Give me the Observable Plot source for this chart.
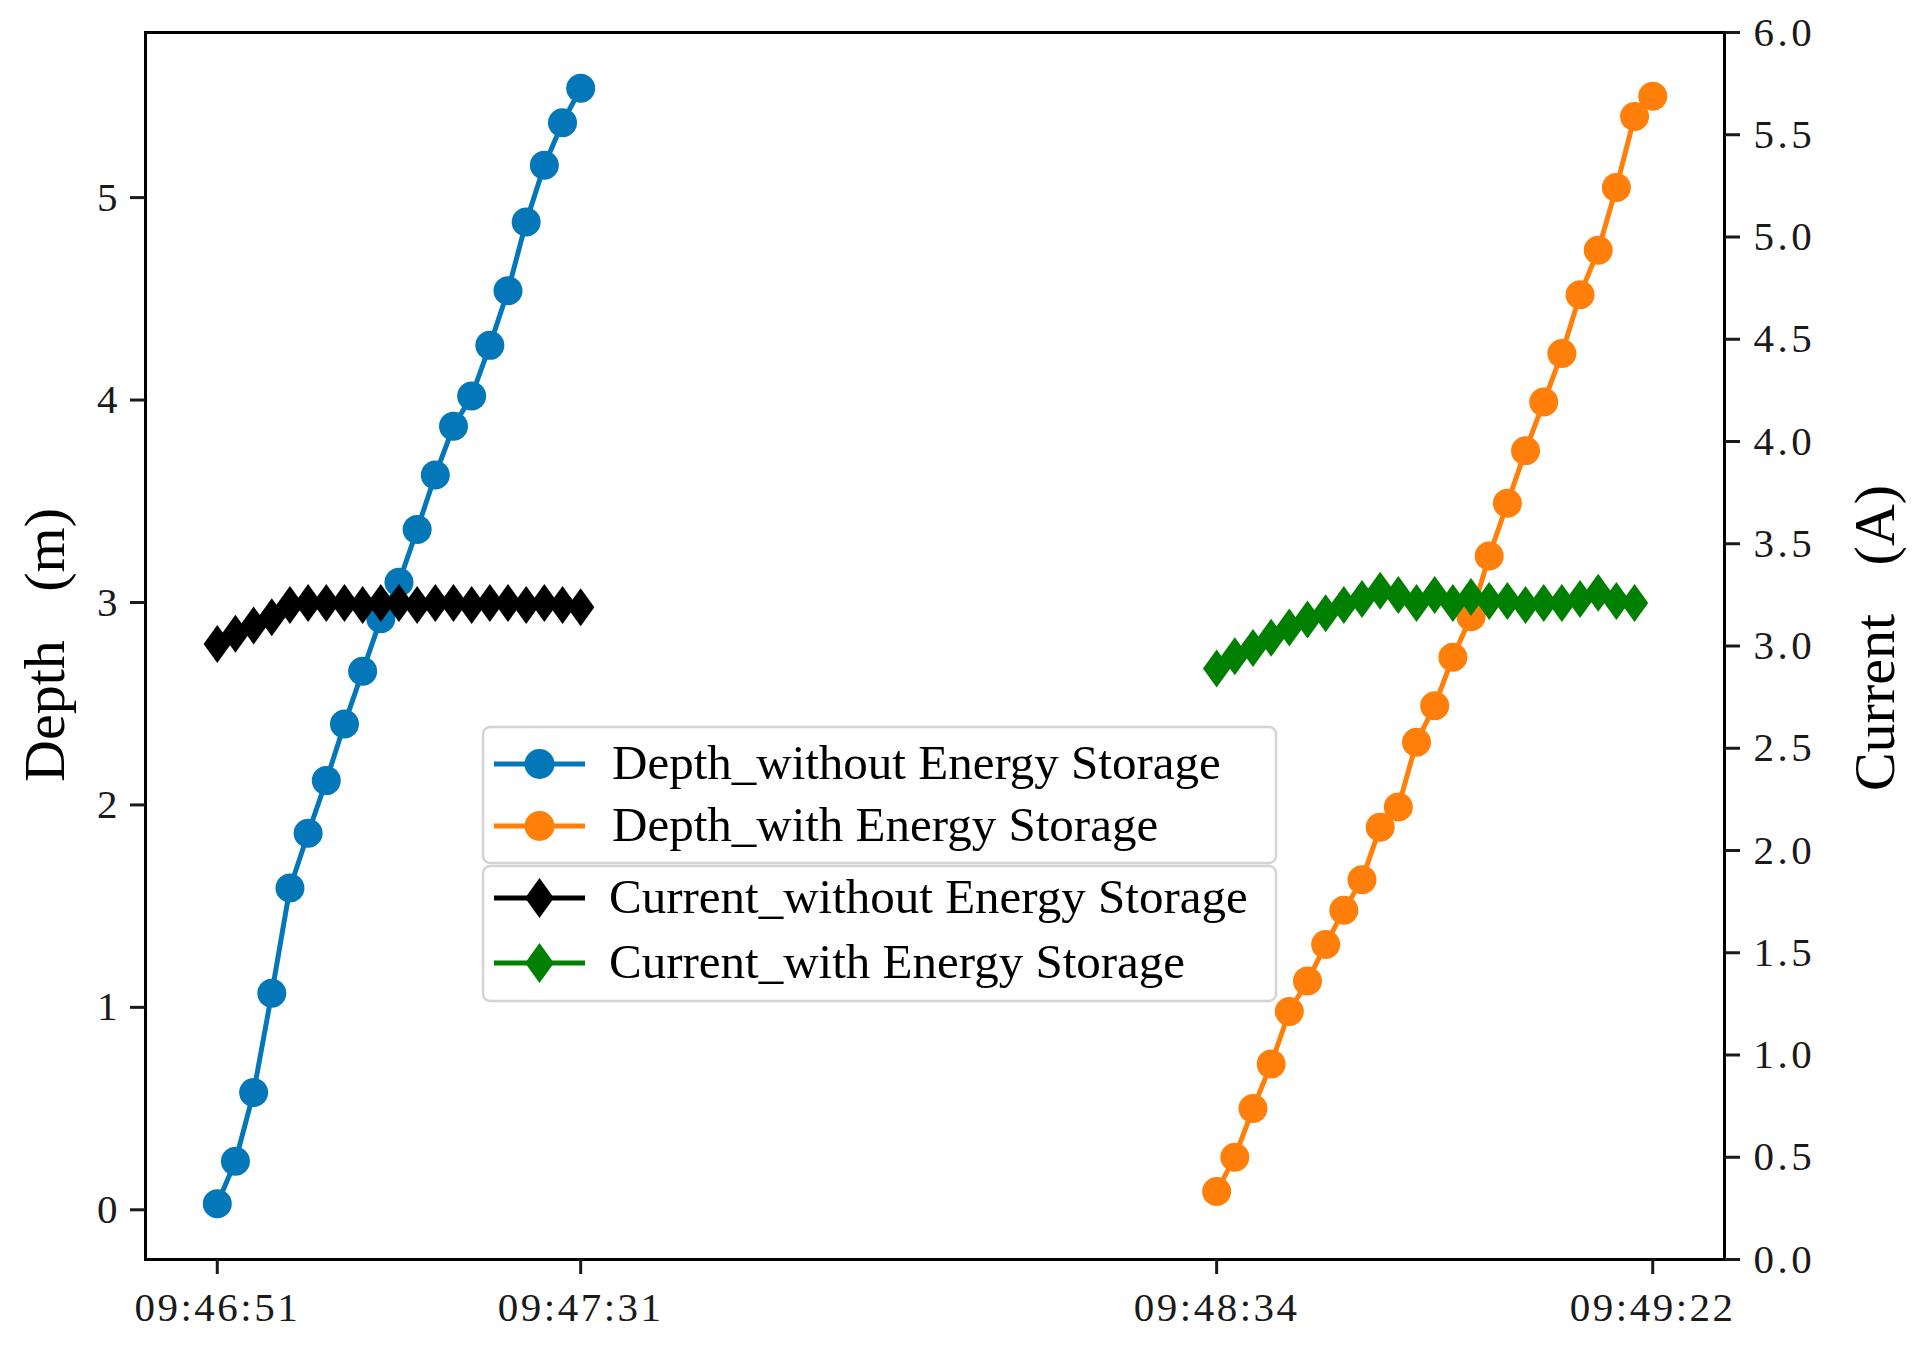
<!DOCTYPE html>
<html><head><meta charset="utf-8">
<script src="https://cdn.jsdelivr.net/npm/d3@7"></script>
<script src="https://cdn.jsdelivr.net/npm/@observablehq/plot@0.6"></script>
<style>
html,body{margin:0;padding:0;background:#fff;}
#wrap{position:relative;width:1925px;height:1358px;overflow:hidden;background:#fff;}
#wrap > svg{position:absolute;left:0;top:0;}
.ylab{position:absolute;font-family:"Liberation Serif","Times New Roman",serif;font-size:58px;color:#000;white-space:pre;word-spacing:34px;line-height:1;transform:translate(-50%,-50%) rotate(-90deg);}
</style></head><body><div id="wrap"></div>
<script>
// ---- data ----
const depthWithout   = [0.03,0.24,0.58,1.07,1.59,1.86,2.12,2.40,2.66,2.92,3.10,3.36,3.63,3.87,4.02,4.27,4.54,4.88,5.16,5.37,5.54];
const depthWith      = [0.09,0.26,0.50,0.72,0.98,1.13,1.31,1.48,1.63,1.89,1.99,2.31,2.49,2.73,2.93,3.23,3.49,3.75,3.99,4.23,4.52,4.74,5.05,5.40,5.50];
const currentWithout = [3.01,3.06,3.10,3.14,3.20,3.21,3.21,3.21,3.20,3.21,3.21,3.20,3.21,3.21,3.20,3.21,3.21,3.20,3.21,3.20,3.19];
const currentWith    = [2.89,2.95,2.99,3.04,3.09,3.13,3.16,3.20,3.23,3.27,3.25,3.21,3.25,3.21,3.24,3.22,3.22,3.20,3.21,3.21,3.23,3.26,3.22,3.21];
const withoutStart = 0;    // sample index of first "without" sample
const withStart = 55;      // sample index of first "with" sample
const xTickPos    = [0, 20, 55, 79];
const xTickLabels = ["09:46:51", "09:47:31", "09:48:34", "09:49:22"];
const depthTicks   = [0, 1, 2, 3, 4, 5];
const currentTicks = [0, 0.5, 1, 1.5, 2, 2.5, 3, 3.5, 4, 4.5, 5, 5.5, 6];
const currentDomain = [0, 6];
const seriesNames = ["Depth_without Energy Storage", "Depth_with Energy Storage", "Current_without Energy Storage", "Current_with Energy Storage"];
const seriesColors = ["#0477b9", "#ff7f0a", "#000000", "#008000"];
const yLabelLeft = "Depth (m)";
const yLabelRight = "Current (A)";

// ---- derived tables ----
const rows = (vals, start) => vals.map((v, i) => ({x: start + i, v}));
const dWo = rows(depthWithout, withoutStart);
const dW  = rows(depthWith, withStart);
const cWo = rows(currentWithout, withoutStart);
const cW  = rows(currentWith, withStart);

// matplotlib-like 5% margins
const pad = ([a, b]) => { const m = (b - a) * 0.05; return [a - m, b + m]; };
const depthDomain = pad(d3.extent([...depthWithout, ...depthWith]));
const xDomain = pad(d3.extent([...dWo, ...dW, ...cWo, ...cW], d => d.x));
const toDepth = d3.scaleLinear(currentDomain, depthDomain);
const fmt1 = d3.format(".1f");
const xLabelMap = new Map(xTickPos.map((p, i) => [p, xTickLabels[i]]));

const thinDiamond = {
  draw(context, size) {
    const r = Math.sqrt(size / Math.PI);
    const w = r * 0.72;
    context.moveTo(0, -r); context.lineTo(w, 0); context.lineTo(0, r); context.lineTo(-w, 0); context.closePath();
  }
};

const W = 1925, H = 1358;
const plot = Plot.plot({
  width: W, height: H,
  marginLeft: 145, marginRight: 201, marginTop: 32, marginBottom: 99,
  style: {fontFamily: '"Liberation Serif","Times New Roman",serif', fontSize: "41px", color: "#1a1a1a", background: "transparent", overflow: "visible"},
  x: {domain: xDomain},
  y: {domain: depthDomain},
  marks: [
    Plot.line(dWo, {x: "x", y: "v", stroke: seriesColors[0], strokeWidth: 5}),
    Plot.dot(dWo, {x: "x", y: "v", r: 14.5, fill: seriesColors[0], stroke: null, symbol: "circle"}),
    Plot.line(dW, {x: "x", y: "v", stroke: seriesColors[1], strokeWidth: 5}),
    Plot.dot(dW, {x: "x", y: "v", r: 14.5, fill: seriesColors[1], stroke: null, symbol: "circle"}),
    Plot.line(cWo, {x: "x", y: d => toDepth(d.v), stroke: seriesColors[2], strokeWidth: 5}),
    Plot.dot(cWo, {x: "x", y: d => toDepth(d.v), r: 19, fill: seriesColors[2], stroke: null, symbol: thinDiamond}),
    Plot.line(cW, {x: "x", y: d => toDepth(d.v), stroke: seriesColors[3], strokeWidth: 5}),
    Plot.dot(cW, {x: "x", y: d => toDepth(d.v), r: 19, fill: seriesColors[3], stroke: null, symbol: thinDiamond}),
    Plot.frame({stroke: "#000", strokeWidth: 3}),
    Plot.axisY({anchor: "left", ticks: depthTicks, tickSize: 15, tickPadding: 13, strokeWidth: 3, tickFormat: d => String(d), label: null}),
    Plot.axisY({anchor: "right", ticks: currentTicks.map(c => toDepth(c)), tickSize: 15, tickPadding: 14, strokeWidth: 3, tickFormat: d => fmt1(toDepth.invert(d)), label: null}),
    Plot.axisX({anchor: "bottom", ticks: xTickPos, tickSize: 15, tickPadding: 17, strokeWidth: 3, tickFormat: d => xLabelMap.get(d), label: null})
  ]
});
const wrap = document.getElementById("wrap");
wrap.appendChild(plot);

// tick label spacing (SimSun-like wide digits)
plot.querySelectorAll('g[aria-label="x-axis tick label"] text').forEach(t => t.style.letterSpacing = "2.5px");
const yl = plot.querySelectorAll('g[aria-label="y-axis tick label"]');
if (yl[1]) yl[1].querySelectorAll("text").forEach(t => t.style.letterSpacing = "3.5px");

// axis titles
const addLab = (txt, cx, cy) => {
  const d = document.createElement("div");
  d.className = "ylab"; d.textContent = txt;
  d.style.left = cx + "px"; d.style.top = cy + "px";
  wrap.appendChild(d);
};
addLab(yLabelLeft, 45, 645);
addLab(yLabelRight, 1875, 638);

// legend (two stacked boxes, like two matplotlib legends)
const lg = d3.select(wrap).append("svg").attr("width", W).attr("height", H)
  .style("position", "absolute").style("left", 0).style("top", 0);
const boxes = [[727, 136], [866, 135]];
boxes.forEach(([y, h]) => lg.append("rect").attr("x", 483).attr("y", y).attr("width", 793).attr("height", h)
  .attr("rx", 7).attr("fill", "rgba(255,255,255,0.85)").attr("stroke", "#d4d4d4").attr("stroke-width", 2.5));
const rowY = [764, 826, 898, 963];
const textX = [612, 612, 609, 609];
seriesNames.forEach((name, i) => {
  const cy = rowY[i], col = seriesColors[i];
  lg.append("line").attr("x1", 494).attr("x2", 585).attr("y1", cy).attr("y2", cy).attr("stroke", col).attr("stroke-width", 5);
  if (i < 2) {
    lg.append("circle").attr("cx", 539.5).attr("cy", cy).attr("r", 15).attr("fill", col);
  } else {
    lg.append("path").attr("transform", `translate(539.5,${cy})`)
      .attr("d", d3.symbol(thinDiamond, 20 * 20 * Math.PI)()).attr("fill", col);
  }
  lg.append("text").attr("x", textX[i]).attr("y", cy + 15).attr("font-family", '"Liberation Serif","Times New Roman",serif')
    .attr("font-size", 49).attr("fill", "#000").text(name);
});
</script>
</body></html>
